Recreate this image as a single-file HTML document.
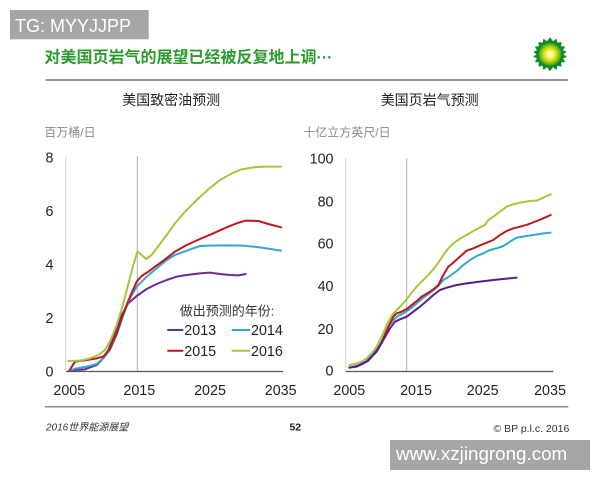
<!DOCTYPE html>
<html>
<head>
<meta charset="utf-8">
<style>
html,body{margin:0;padding:0;background:#fff;}
body{width:600px;height:480px;overflow:hidden;}
svg{display:block;}
.t{font-family:"Liberation Sans","Noto Sans CJK SC",sans-serif;}
</style>
</head>
<body>
<svg width="600" height="480" viewBox="0 0 600 480" xmlns="http://www.w3.org/2000/svg">
  <defs>
    <radialGradient id="sun" cx="50%" cy="50%" r="50%">
      <stop offset="0%" stop-color="#ffffff"/>
      <stop offset="25%" stop-color="#fbf7a0"/>
      <stop offset="50%" stop-color="#e8e800"/>
      <stop offset="75%" stop-color="#8cc820"/>
      <stop offset="100%" stop-color="#2f9a20"/>
    </radialGradient>
  </defs>
  <rect width="600" height="480" fill="#fff"/>

  <!-- TG watermark -->
  <rect x="10" y="10" width="138.7" height="29.3" fill="#a6a6a6"/>
  <text x="15" y="32" class="t" font-size="18" fill="#fff">TG: MYYJJPP</text>

  <!-- title -->
  <text x="44.5" y="62.3" class="t" font-size="16" font-weight="bold" fill="#2d9a2d">对美国页岩气的展望已经被反复地上调···</text>

  <!-- BP logo -->
  <g transform="translate(550,54.3)">
    <polygon fill="#118a28" points="
      0,-17 3,-13 6.5,-15.7 7.5,-11.5 11.6,-12.4 11,-8.2 15.2,-7.7 13,-4.1 16.8,-2.4 13.4,0 16.8,2.4 13,4.1 15.2,7.7 11,8.2 11.6,12.4 7.5,11.5 6.5,15.7 3,13 0,17 -3,13 -6.5,15.7 -7.5,11.5 -11.6,12.4 -11,8.2 -15.2,7.7 -13,4.1 -16.8,2.4 -13.4,0 -16.8,-2.4 -13,-4.1 -15.2,-7.7 -11,-8.2 -11.6,-12.4 -7.5,-11.5 -6.5,-15.7 -3,-13"/>
    <circle r="11.5" fill="url(#sun)"/>
  </g>

  <!-- header separator -->
  <line x1="45.7" y1="80" x2="568" y2="80" stroke="#6e6e6e" stroke-width="1.4"/>

  <!-- subtitles -->
  <text x="171.2" y="105" class="t" font-size="14" fill="#222" text-anchor="middle">美国致密油预测</text>
  <text x="429.7" y="105" class="t" font-size="14" fill="#222" text-anchor="middle">美国页岩气预测</text>

  <!-- units -->
  <text x="44.3" y="136.5" class="t" font-size="12" fill="#8a8a8a">百万桶/日</text>
  <text x="303.3" y="136.5" class="t" font-size="12" fill="#8a8a8a">十亿立方英尺/日</text>

  <!-- ============ LEFT CHART ============ -->
  <line x1="65.7" y1="156.5" x2="65.7" y2="371.5" stroke="#d4d4d4" stroke-width="1"/>
  <line x1="137.3" y1="156" x2="137.3" y2="371.5" stroke="#b0b0b0" stroke-width="1"/>
  <g class="t" font-size="14.3" fill="#222" text-anchor="end">
    <text x="53.5" y="162.3">8</text>
    <text x="53.5" y="216">6</text>
    <text x="53.5" y="269.5">4</text>
    <text x="53.5" y="323">2</text>
    <text x="53.5" y="376.5">0</text>
  </g>
  <g class="t" font-size="14.3" fill="#222" text-anchor="middle">
    <text x="69.3" y="395">2005</text>
    <text x="139.3" y="395">2015</text>
    <text x="210" y="395">2025</text>
    <text x="280.7" y="395">2035</text>
  </g>

  <g transform="translate(20,140) scale(0.33333)" fill="none" stroke-linejoin="round" stroke-linecap="round">
    <!-- 2013 purple -->
    <polyline vector-effect="non-scaling-stroke" stroke="#6c2a9c" stroke-width="2"
      points="148,692 165,690 195,688 230,675 245,660 265,630 285,580 305,525 325,490 350,468 380,447 410,432 440,420 470,410 500,405 540,400 570,398 600,402 630,405 655,406 677,402"/>
    <!-- 2014 blue -->
    <polyline vector-effect="non-scaling-stroke" stroke="#36a6c9" stroke-width="2"
      points="148,692 170,685 200,680 230,672 250,655 270,630 290,585 310,525 330,475 350,440 380,410 410,385 440,360 465,345 500,332 540,318 570,317 620,316 670,317 720,322 783,332"/>
    <!-- 2015 red -->
    <polyline vector-effect="non-scaling-stroke" stroke="#c3161c" stroke-width="2"
      points="148,692 165,665 200,660 230,655 250,650 270,625 290,580 310,520 330,470 350,425 365,408 385,395 405,380 430,362 465,335 500,315 540,297 580,280 620,262 650,250 675,242 715,243 745,252 783,262"/>
    <!-- 2016 green -->
    <polyline vector-effect="non-scaling-stroke" stroke="#a3c83a" stroke-width="2"
      points="145,663 180,662 210,655 235,645 255,630 272,600 290,555 310,490 328,420 340,375 352,335 362,342 378,357 395,345 415,318 440,285 465,250 495,215 530,180 565,148 600,120 635,100 665,88 700,82 740,80 783,80"/>
  </g>
  <line x1="66" y1="371.5" x2="283" y2="371.5" stroke="#555" stroke-width="1.3"/>

  <!-- legend -->
  <text x="227" y="315.5" class="t" font-size="13" fill="#333" text-anchor="middle">做出预测的年份:</text>
  <line x1="167.3" y1="330" x2="183.3" y2="330" stroke="#6c2a9c" stroke-width="2"/>
  <text x="184.3" y="335.2" class="t" font-size="14.3" fill="#222">2013</text>
  <line x1="231.7" y1="330" x2="250" y2="330" stroke="#36a6c9" stroke-width="2"/>
  <text x="251" y="335.2" class="t" font-size="14.3" fill="#222">2014</text>
  <line x1="167.3" y1="350.7" x2="183.3" y2="350.7" stroke="#c3161c" stroke-width="2"/>
  <text x="184.3" y="355.9" class="t" font-size="14.3" fill="#222">2015</text>
  <line x1="231.7" y1="350.7" x2="250" y2="350.7" stroke="#a3c83a" stroke-width="2"/>
  <text x="251" y="355.9" class="t" font-size="14.3" fill="#222">2016</text>

  <!-- ============ RIGHT CHART ============ -->
  <line x1="345.7" y1="158" x2="345.7" y2="371.5" stroke="#d4d4d4" stroke-width="1"/>
  <line x1="406.7" y1="158" x2="406.7" y2="371.5" stroke="#b0b0b0" stroke-width="1"/>
  <g class="t" font-size="14.3" fill="#222" text-anchor="end">
    <text x="333.5" y="163.3">100</text>
    <text x="333.5" y="206.7">80</text>
    <text x="333.5" y="248.3">60</text>
    <text x="333.5" y="291">40</text>
    <text x="333.5" y="334">20</text>
    <text x="333.5" y="375.7">0</text>
  </g>
  <g class="t" font-size="14.3" fill="#222" text-anchor="middle">
    <text x="349.3" y="395">2005</text>
    <text x="416" y="395">2015</text>
    <text x="482.7" y="395">2025</text>
    <text x="550" y="395">2035</text>
  </g>

  <g transform="translate(300,140) scale(0.33333)" fill="none" stroke-linejoin="round" stroke-linecap="round">
    <!-- 2016 green -->
    <polyline vector-effect="non-scaling-stroke" stroke="#a3c83a" stroke-width="2"
      points="148,675 165,672 185,665 200,655 215,640 230,620 245,590 260,555 275,527 290,510 305,495 320,478 335,458 350,440 365,425 385,405 400,388 415,368 430,345 445,325 460,310 480,296 500,285 520,273 540,262 555,255 565,240 580,230 600,215 620,200 640,193 660,188 690,183 710,182 725,175 740,168 752,163"/>
    <!-- 2014 blue -->
    <polyline vector-effect="non-scaling-stroke" stroke="#36a6c9" stroke-width="2"
      points="148,683 170,678 200,663 230,630 250,600 265,560 280,540 295,527 310,520 330,507 350,490 370,473 395,455 415,438 430,420 450,408 470,393 490,375 510,360 530,348 550,340 570,330 590,325 610,318 630,305 650,293 680,288 700,285 730,280 752,278"/>
    <!-- 2015 red -->
    <polyline vector-effect="non-scaling-stroke" stroke="#c3161c" stroke-width="2"
      points="148,683 165,680 185,673 205,662 220,645 235,625 250,595 265,560 280,530 290,520 305,515 320,507 335,495 350,483 365,470 385,458 400,448 415,435 430,405 445,380 460,368 480,350 500,332 520,325 540,316 560,308 580,300 600,285 620,273 640,265 660,260 685,253 710,243 730,235 752,225"/>
    <!-- 2013 purple -->
    <polyline vector-effect="non-scaling-stroke" stroke="#5a1f8c" stroke-width="2"
      points="148,683 170,680 200,665 230,635 250,600 270,565 285,545 300,538 320,530 340,515 360,500 380,483 400,465 420,450 440,443 470,435 500,430 540,425 580,420 620,416 650,413"/>
  </g>
  <line x1="346" y1="371.5" x2="553.3" y2="371.5" stroke="#555" stroke-width="1.3"/>

  <!-- footer -->
  <line x1="45" y1="406.7" x2="568.3" y2="406.7" stroke="#8a8a8a" stroke-width="1.5"/>
  <text x="46" y="430.3" class="t" font-size="10" font-style="italic" fill="#333">2016世界能源展望</text>
  <text x="295.3" y="430.3" class="t" font-size="10.5" font-weight="bold" fill="#222" text-anchor="middle">52</text>
  <text x="569.3" y="432" class="t" font-size="10.5" fill="#333" text-anchor="end">© BP p.l.c. 2016</text>

  <!-- site watermark -->
  <rect x="390" y="440" width="200" height="30" fill="#a6a6a6"/>
  <text x="396" y="460" class="t" font-size="18.8" fill="#fff">www.xzjingrong.com</text>
</svg>
</body>
</html>
